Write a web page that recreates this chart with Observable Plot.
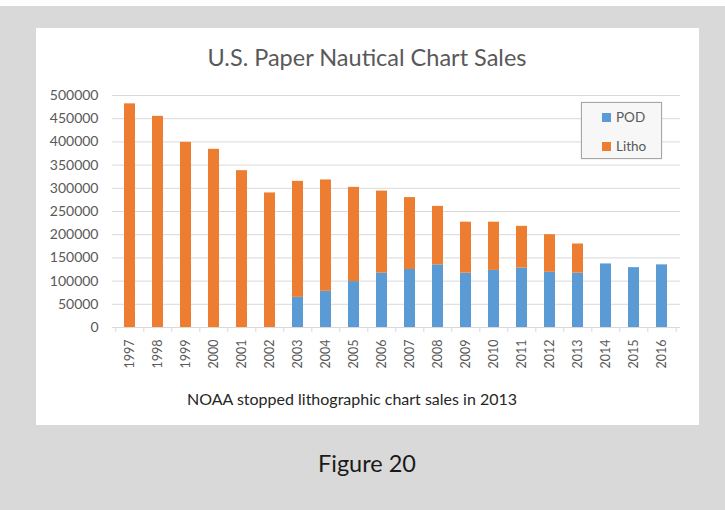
<!DOCTYPE html>
<html><head><meta charset="utf-8">
<script src="https://cdn.jsdelivr.net/npm/d3@7"></script>
<script src="https://cdn.jsdelivr.net/npm/@observablehq/plot@0.6"></script>
<style>
html,body{margin:0;padding:0;}
body{width:725px;height:510px;position:relative;background:#fff;font-family:Lato,"Open Sans",sans-serif;overflow:hidden}
#bg{position:absolute;left:0;top:6px;width:725px;height:504px;background:#d9d9d9}
#panel{position:absolute;left:36px;top:28px;width:663px;height:397px;background:#fff}
.t{position:absolute;white-space:nowrap;line-height:1}
#title{left:0;width:734px;top:46px;text-align:center;font-size:23.5px;color:#595959}
#caption{left:152px;width:400px;top:391px;text-align:center;font-size:16px;color:#262626}
#fig{left:0;width:734px;top:452px;text-align:center;font-size:23.5px;color:#1a1a1a}
#chart{position:absolute;left:36px;top:80px}
#legend{position:absolute;left:581px;top:102px;width:79px;height:55px;border:1px solid #a6a6a6;background:#f7f7f7;box-shadow:0 0 1px #bbb}
.li{position:absolute;left:20px;font-size:13.5px;color:#595959;line-height:1}
.sw{display:inline-block;width:9px;height:9px;margin-right:5px;vertical-align:0px}
</style></head>
<body>
<div id="bg"></div>
<div id="panel"></div>
<div id="chart"></div>
<div class="t" id="title">U.S. Paper Nautical Chart Sales</div>
<div class="t" id="caption">NOAA stopped lithographic chart sales in 2013</div>
<div class="t" id="fig">Figure 20</div>
<div id="legend"></div>
<script>
const years = ["1997","1998","1999","2000","2001","2002","2003","2004","2005","2006","2007","2008","2009","2010","2011","2012","2013","2014","2015","2016"];
const pod   = [0,0,0,0,0,0,65000,78000,99000,117000,125000,135000,117000,123000,128000,119000,117000,137000,129000,135000];
const litho = [482000,455000,399000,384000,338000,290000,250000,240000,203000,177000,155000,126000,110000,104000,90000,81000,63000,0,0,0];
const series = ["POD","Litho"];
const colors = ["#5b9bd5","#ed7d31"];
const yTicks = [0,50000,100000,150000,200000,250000,300000,350000,400000,450000,500000];

const rows = [];
years.forEach((y,i)=>{
  rows.push({year:y, series:"POD", value:pod[i]});
  rows.push({year:y, series:"Litho", value:litho[i]});
});

const W = 660, H = 292, mL = 76, mR = 16, mT = 15, mB = 45;
const step = (W - mL - mR) / years.length;

const chart = Plot.plot({
  width: W, height: H,
  marginLeft: mL, marginRight: mR, marginTop: mT, marginBottom: mB,
  style: {fontFamily: "Lato, 'Open Sans', sans-serif", background: "transparent", overflow: "visible"},
  x: {domain: years, paddingInner: 0.6, paddingOuter: 0.3, label: null},
  y: {domain: [0, 500000], label: null},
  color: {domain: series, range: colors},
  marks: [
    Plot.gridY(yTicks, {stroke: "#d9d9d9", strokeOpacity: 1}),
    Plot.axisY(yTicks, {tickSize: 0, tickPadding: 14, tickFormat: d => String(d), fontSize: 14, fill: "#595959", label: null}),
    Plot.barY(rows, Plot.stackY({x: "year", y: "value", fill: "series", order: series})),
    Plot.ruleY([0], {stroke: "#d9d9d9", strokeWidth: 1}),
    Plot.axisX({tickSize: 0, tickPadding: 12, tickRotate: -90, fontSize: 12.5, fill: "#595959", label: null}),
    Plot.axisX({tickSize: 5, tickFormat: () => "", stroke: "#d9d9d9", dx: -step/2, label: null}),
    Plot.axisX([years[years.length-1]], {tickSize: 5, tickFormat: () => "", stroke: "#d9d9d9", dx: step/2, label: null})
  ]
});
document.getElementById("chart").appendChild(chart);

const leg = document.getElementById("legend");
series.forEach((s,i)=>{
  const d = document.createElement("div");
  d.className = "li";
  d.style.top = (8 + i*29) + "px";
  d.innerHTML = `<span class="sw" style="background:${colors[i]}"></span>${s}`;
  leg.appendChild(d);
});
</script>
</body></html>
